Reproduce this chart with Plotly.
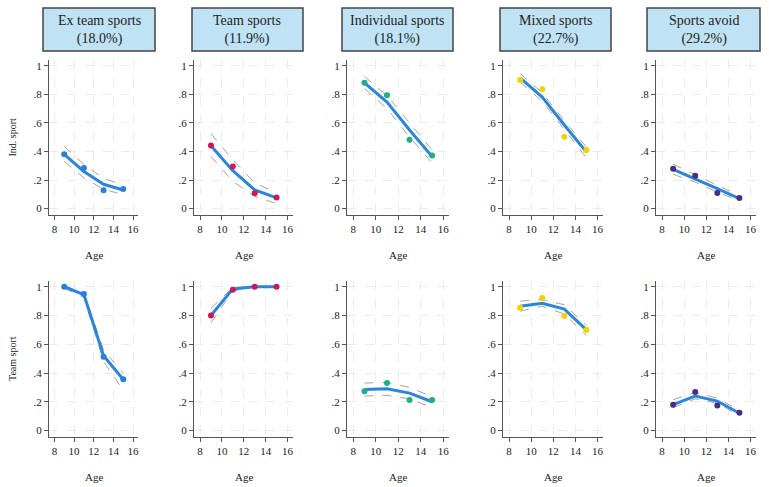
import plotly.graph_objects as go

W, H = 769, 487

ages = [9, 11, 13, 15]
groups = ["Ex team sports", "Team sports", "Individual sports", "Mixed sports", "Sports avoid"]
shares = ["18.0%", "11.9%", "18.1%", "22.7%", "29.2%"]
outcomes = ["Ind. sport", "Team sport"]
x_ticks = [8, 10, 12, 14, 16]
y_ticks = [0, 0.2, 0.4, 0.6, 0.8, 1]
y_tick_labels = ["0", ".2", ".4", ".6", ".8", "1"]

# Individual sport: observed, fitted, CI bounds (one list per group)
ind_obs = [[0.381, 0.284, 0.128, 0.137],
           [0.442, 0.295, 0.107, 0.077],
           [0.881, 0.793, 0.481, 0.372],
           [0.900, 0.835, 0.502, 0.410],
           [0.279, 0.230, 0.109, 0.074]]
ind_fit = [[0.380, 0.260, 0.170, 0.130],
           [0.440, 0.265, 0.130, 0.075],
           [0.880, 0.745, 0.550, 0.365],
           [0.915, 0.780, 0.585, 0.395],
           [0.275, 0.210, 0.140, 0.070]]
ind_hi = [[0.435, 0.310, 0.210, 0.165],
          [0.525, 0.340, 0.180, 0.110],
          [0.925, 0.790, 0.600, 0.410],
          [0.945, 0.810, 0.615, 0.430],
          [0.310, 0.235, 0.160, 0.090]]
ind_lo = [[0.330, 0.215, 0.135, 0.098],
          [0.365, 0.190, 0.085, 0.035],
          [0.840, 0.700, 0.500, 0.320],
          [0.885, 0.750, 0.555, 0.355],
          [0.240, 0.185, 0.115, 0.055]]

# Team sport
team_obs = [[1.000, 0.950, 0.514, 0.356],
            [0.800, 0.980, 1.000, 1.000],
            [0.273, 0.331, 0.213, 0.213],
            [0.854, 0.921, 0.796, 0.700],
            [0.180, 0.268, 0.174, 0.123]]
team_fit = [[1.000, 0.945, 0.520, 0.355],
            [0.800, 0.985, 1.000, 1.000],
            [0.285, 0.290, 0.260, 0.200],
            [0.865, 0.885, 0.845, 0.700],
            [0.180, 0.240, 0.205, 0.120]]
team_hi = [[1.000, 0.960, 0.560, 0.400],
           [0.850, 0.995, 1.000, 1.000],
           [0.330, 0.335, 0.300, 0.235],
           [0.900, 0.910, 0.875, 0.730],
           [0.215, 0.265, 0.225, 0.140]]
team_lo = [[0.990, 0.925, 0.480, 0.280],
           [0.750, 0.970, 1.000, 1.000],
           [0.240, 0.245, 0.220, 0.160],
           [0.830, 0.865, 0.810, 0.660],
           [0.160, 0.220, 0.190, 0.105]]

dot_colors = ["#2b7fd9", "#d0175c", "#1fae86", "#f2d200", "#4b2a8a"]
line_color = "#2a86dc"
ci_color = "#a9a39a"
FONT = "Liberation Serif"

# layout geometry in window pixels
col_px = [(49, 138), (194, 293), (347, 449), (503, 603), (656, 756)]
row_px = [(60, 215), (281, 437)]
box_px = [(43, 155), (192, 303), (342, 453), (500, 611), (647, 760)]
box_y = (8, 51)


def px(x):
    return x / W


def py(y):
    return 1 - y / H


fig = go.Figure()
layout = dict(width=W, height=H, margin=dict(l=0, r=0, t=0, b=0), autosize=False,
              paper_bgcolor="white", plot_bgcolor="white", showlegend=False,
              font=dict(family=FONT, size=10, color="#222"))
annotations = []
shapes = []

series = [(ind_obs, ind_fit, ind_hi, ind_lo), (team_obs, team_fit, team_hi, team_lo)]

k = 0
for r in range(2):
    obs, fit, hi, lo = series[r]
    for c in range(5):
        k += 1
        xa = "x" if k == 1 else f"x{k}"
        ya = "y" if k == 1 else f"y{k}"
        for bound in (hi[c], lo[c]):
            fig.add_trace(go.Scatter(x=ages, y=bound, mode="lines", xaxis=xa, yaxis=ya,
                                     line=dict(color=ci_color, width=1, dash="dash"),
                                     hoverinfo="skip"))
        fig.add_trace(go.Scatter(x=ages, y=fit[c], mode="lines", xaxis=xa, yaxis=ya,
                                 line=dict(color=line_color, width=3)))
        fig.add_trace(go.Scatter(x=ages, y=obs[c], mode="markers", xaxis=xa, yaxis=ya,
                                 marker=dict(color=dot_colors[c], size=6)))
        axcommon = dict(showline=True, linecolor="#555", linewidth=1.3, ticks="outside",
                        ticklen=4, tickcolor="#555", tickwidth=1,
                        showgrid=True, gridcolor="#ececec", gridwidth=1, griddash="dash",
                        zeroline=False, tickfont=dict(family=FONT, size=11, color="#222"))
        layout["xaxis" if k == 1 else f"xaxis{k}"] = dict(
            axcommon, domain=[px(col_px[c][0]), px(col_px[c][1])], range=[7.45, 16.5],
            tickvals=x_ticks, anchor=ya)
        layout["yaxis" if k == 1 else f"yaxis{k}"] = dict(
            axcommon, domain=[py(row_px[r][1]), py(row_px[r][0])], range=[-0.045, 1.04],
            tickvals=y_ticks, ticktext=y_tick_labels, anchor=xa)
        annotations.append(dict(text="Age", x=px((col_px[c][0] + col_px[c][1]) / 2),
                                y=py(row_px[r][1] + 40), xref="paper", yref="paper",
                                xanchor="center", yanchor="middle",
                                showarrow=False, font=dict(family=FONT, size=11)))
    annotations.append(dict(text=outcomes[r], x=px(12), y=py((row_px[r][0] + row_px[r][1]) / 2),
                            xref="paper", yref="paper", showarrow=False, textangle=-90,
                            xanchor="center", yanchor="middle",
                            font=dict(family=FONT, size=10)))

for c in range(5):
    shapes.append(dict(type="rect", xref="paper", yref="paper",
                       x0=px(box_px[c][0]), x1=px(box_px[c][1]),
                       y0=py(box_y[1]), y1=py(box_y[0]),
                       fillcolor="#bfe3f4", line=dict(color="#444", width=1.5)))
    annotations.append(dict(text=f"{groups[c]}<br>({shares[c]})",
                            x=px((box_px[c][0] + box_px[c][1]) / 2),
                            y=py((box_y[0] + box_y[1]) / 2), xref="paper", yref="paper",
                            xanchor="center", yanchor="middle",
                            showarrow=False, font=dict(family=FONT, size=14, color="#222")))

layout["annotations"] = annotations
layout["shapes"] = shapes
fig.update_layout(**layout)
fig.write_html("out.html", config={"displayModeBar": False},
               post_script="document.body.style.margin='0px';document.body.style.overflow='hidden';")
